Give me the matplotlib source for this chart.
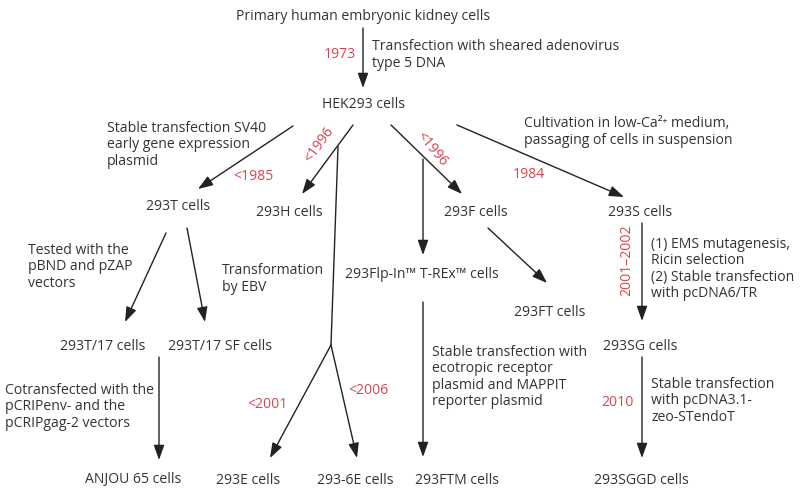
"""
HEK293 cell line lineage diagram.
Output: out.png
"""

import matplotlib.pyplot as plt

# ── data ───────────────────────────────────────────────────────────────────────
cell_lines = [
    "Primary human embryonic kidney cells",
    "HEK293 cells",
    "293T cells", "293H cells", "293F cells", "293S cells",
    "293Flp-In\u2122 T-REx\u2122 cells", "293FT cells",
    "293T/17 cells", "293T/17 SF cells", "293SG cells",
    "ANJOU 65 cells", "293E cells", "293-6E cells", "293FTM cells",
    "293SGGD cells",
]

methods = [
    "Transfection with sheared adenovirus\ntype 5 DNA",
    "Stable transfection SV40\nearly gene expression\nplasmid",
    "Cultivation in low-Ca\u00b2\u207a medium,\npassaging of cells in suspension",
    "Tested with the\npBND and pZAP\nvectors",
    "Transformation\nby EBV",
    "(1) EMS mutagenesis,\nRicin selection\n(2) Stable transfection\nwith pcDNA6/TR",
    "Cotransfected with the\npCRIPenv- and the\npCRIPgag-2 vectors",
    "Stable transfection with\necotropic receptor\nplasmid and MAPPIT\nreporter plasmid",
    "Stable transfection\nwith pcDNA3.1-\nzeo-STendoT",
]

years = ["1973", "<1985", "<1996", "<1996", "1984", "2001\u20132002",
         "<2001", "<2006", "2010"]

# ── layout (pixel coordinates, y downwards) ───────────────────────────────────
node_pos = [
    (363, 17), (363, 104),
    (178, 206), (289, 212), (476, 213), (640, 213),
    (422, 274), (550, 312),
    (103, 346), (220, 346), (640, 346),
    (133, 480), (248, 480), (355, 480), (457, 480),
    (641, 480),
]

method_pos = [
    (372, 55), (107, 145), (524, 132), (28, 267), (222, 279),
    (651, 269), (5, 407), (432, 377), (651, 401),
]

year_pos = [(340, 54), (253, 176), (319, 145), (432, 149), (529, 175),
            (627, 260), (267, 404), (368, 390), (617, 402)]
year_rot = [0, 0, 54, -50, 0, 90, 0, 0, 0]

# (start, end, has_head)
links = [
    ((363, 28), (363, 88), True),
    ((293, 126), (198, 189), True),
    ((353, 125), (302, 194), True),
    ((338, 147), (331, 345), False),
    ((331, 345), (270, 458), True),
    ((331, 345), (357, 458), True),
    ((391, 125), (462, 194), True),
    ((423, 159), (423, 255), True),
    ((457, 125), (624, 197), True),
    ((166, 233), (125, 322), True),
    ((187, 228), (205, 322), True),
    ((159, 357), (159, 460), True),
    ((488, 228), (547, 283), True),
    ((423, 302), (423, 457), True),
    ((642, 223), (642, 321), True),
    ((642, 357), (642, 458), True),
]

TEXT = "#333333"
RED = "#d9434f"
LINE = "#222222"

plt.rcParams["font.family"] = ["Open Sans", "DejaVu Sans"]

fig = plt.figure(figsize=(8, 5), dpi=100)
ax = fig.add_axes([0, 0, 1, 1])
ax.set_xlim(0, 800)
ax.set_ylim(500, 0)
ax.axis("off")

for (x0, y0), (x1, y1), head in links:
    if head:
        ax.annotate("", xy=(x1, y1), xytext=(x0, y0),
                    arrowprops=dict(arrowstyle="-|>,head_length=0.9,head_width=0.32",
                                    lw=1.0, color=LINE, mutation_scale=10,
                                    shrinkA=0, shrinkB=0))
    else:
        ax.plot([x0, x1], [y0, y1], color=LINE, lw=1.0)

for name, (x, y) in zip(cell_lines, node_pos):
    ax.text(x, y, name, ha="center", va="center", fontsize=10.1, color=TEXT)

for txt, (x, y) in zip(methods, method_pos):
    ax.text(x, y, txt, ha="left", va="center", fontsize=10.1, color=TEXT,
            linespacing=1.12)

for yr, (x, y), rot in zip(years, year_pos, year_rot):
    ax.text(x, y, yr, ha="center", va="center", fontsize=10.1, color=RED,
            rotation=rot, rotation_mode="anchor")

fig.savefig("out.png", dpi=100, facecolor="white")
